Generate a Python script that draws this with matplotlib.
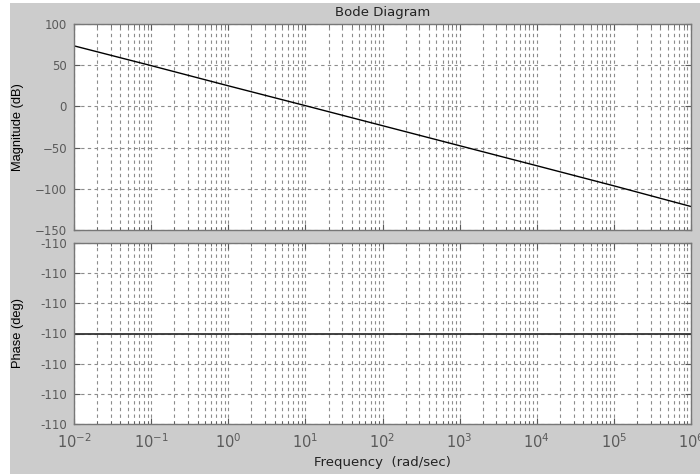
import matplotlib
matplotlib.use('Agg')
import matplotlib.pyplot as plt
from matplotlib.patches import Rectangle
from matplotlib.ticker import LogLocator, FixedLocator, FormatStrFormatter, NullFormatter

# data
freq = [1e-2, 1e-1, 1e0, 1e1, 1e2, 1e3, 1e4, 1e5, 1e6]
mag_db = [73.5, 49.5, 25.0, 0.9, -23.4, -47.7, -72.0, -96.4, -121.5]
phase_deg = [-110, -110, -110, -110, -110, -110, -110, -110, -110]
phase_ticks = [-110.3, -110.2, -110.1, -110.0, -109.9, -109.8, -109.7]
mag_ticks = [-150, -100, -50, 0, 50, 100]

plt.rcParams['font.family'] = ['DejaVu Sans']
plt.rcParams['mathtext.fontset'] = 'custom'
plt.rcParams['mathtext.rm'] = 'Liberation Sans'
plt.rcParams['mathtext.it'] = 'Liberation Sans'
plt.rcParams['mathtext.default'] = 'regular'

bg = '#cccccc'
tick_col = '#5a5a5a'
grid_col = '#8c8c8c'

fig = plt.figure(figsize=(7, 4.74), dpi=100, facecolor=bg)
# white strips at left and top (page margin in the screenshot)
fig.patches.append(Rectangle((0, 0), 10 / 700, 1, transform=fig.transFigure,
                             facecolor='white', edgecolor='none', zorder=-1))
fig.patches.append(Rectangle((0, 471 / 474), 1, 3 / 474, transform=fig.transFigure,
                             facecolor='white', edgecolor='none', zorder=-1))

ax1 = fig.add_axes([74 / 700, 1 - 230 / 474, 617 / 700, 206 / 474])
ax2 = fig.add_axes([74 / 700, 1 - 424 / 474, 617 / 700, 181 / 474])

for ax in (ax1, ax2):
    ax.set_xscale('log')
    ax.set_xlim(1e-2, 1e6)
    ax.xaxis.set_major_locator(LogLocator(base=10, numticks=20))
    ax.xaxis.set_minor_locator(LogLocator(base=10, subs=range(2, 10), numticks=100))
    ax.xaxis.set_minor_formatter(NullFormatter())
    ax.grid(True, which='major', axis='both', linestyle=(0, (3, 3)), color=grid_col, linewidth=0.8)
    ax.grid(True, which='minor', axis='x', linestyle=(0, (3, 3)), color=grid_col, linewidth=0.8)
    ax.tick_params(which='both', direction='in', top=True, right=True,
                   colors=tick_col, labelcolor=tick_col)
    ax.tick_params(axis='y', labelsize=8.5, pad=5)
    ax.tick_params(axis='x', labelsize=10.5, pad=6)
    ax.tick_params(which='major', length=4)
    ax.tick_params(which='minor', length=2)
    for s in ax.spines.values():
        s.set_color('#777777')
        s.set_linewidth(1)
    ax.set_axisbelow(True)

ax1.plot(freq, mag_db, color='black', linewidth=1)
ax1.set_ylim(-150, 100)
ax1.yaxis.set_major_locator(FixedLocator(mag_ticks))
ax1.set_xticklabels([])
ax1.set_title('Bode Diagram', fontsize=9.5, color='#222222', pad=6)
ax1.set_ylabel('Magnitude (dB)', fontsize=9.3, color='black', family='Liberation Sans')
ax1.yaxis.set_label_coords((24 - 74) / 617, 0.5)

ax2.plot(freq, phase_deg, color='#333333', linewidth=1.3)
ax2.set_ylim(phase_ticks[0], phase_ticks[-1])
ax2.yaxis.set_major_locator(FixedLocator(phase_ticks))
ax2.yaxis.set_major_formatter(FormatStrFormatter('%.0f'))
ax2.set_ylabel('Phase (deg)', fontsize=9.3, color='black', family='Liberation Sans')
ax2.yaxis.set_label_coords((24 - 74) / 617, 0.5)
ax2.set_xlabel('Frequency  (rad/sec)', fontsize=9.5, color='#222222')
ax2.xaxis.set_label_coords(0.5, -(456 - 424) / 181)

fig.savefig('out.png', dpi=100, facecolor=fig.get_facecolor())
